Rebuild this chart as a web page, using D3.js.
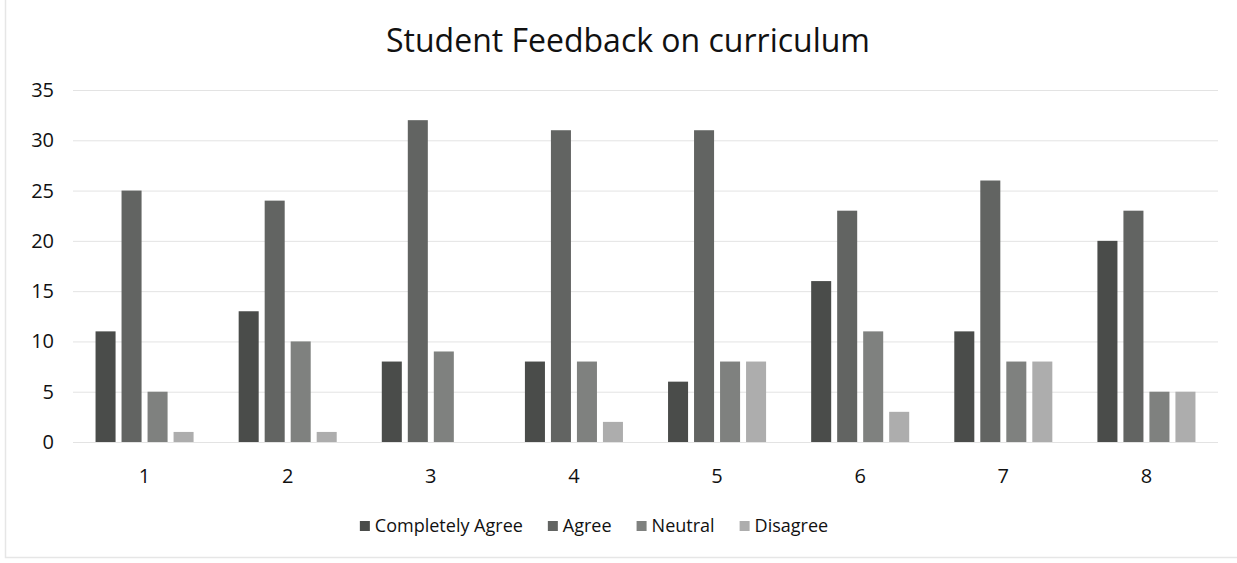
<!DOCTYPE html>
<html>
<head>
<meta charset="utf-8">
<script src="https://cdn.jsdelivr.net/npm/d3@7"></script>
<style>
  body { margin: 0; background: #fff; }
  svg { font-family: "Open Sans", "Noto Sans", sans-serif; }
  .grid line { stroke: #e3e3e3; }
  .grid path { display: none; }
</style>
</head>
<body>
<div id="vis"></div>
<script>
// chart size
const FRAME_WIDTH = 1237;
const FRAME_HEIGHT = 563;
const MARGINS = {left: 73, right: 19, top: 90, bottom: 121};

// data
const categories = ["1", "2", "3", "4", "5", "6", "7", "8"];
const series = ["Completely Agree", "Agree", "Neutral", "Disagree"];
const completelyAgree = [11, 13, 8, 8, 6, 16, 11, 20];
const agree = [25, 24, 32, 31, 31, 23, 26, 23];
const neutral = [5, 10, 9, 8, 8, 11, 8, 5];
const disagree = [1, 1, 0, 2, 8, 3, 8, 5];
const yTicks = [0, 5, 10, 15, 20, 25, 30, 35];
const colors = ["#4a4c4a", "#626462", "#7f817f", "#adadad"];

const values = [completelyAgree, agree, neutral, disagree];

const VIS_WIDTH = FRAME_WIDTH - MARGINS.left - MARGINS.right;
const VIS_HEIGHT = FRAME_HEIGHT - MARGINS.top - MARGINS.bottom;

const FRAME = d3.select("#vis")
  .append("svg")
    .attr("width", FRAME_WIDTH)
    .attr("height", FRAME_HEIGHT);

// faint page border from the scan
FRAME.append("path")
  .attr("d", "M5.5,0 V557.5 H1237")
  .attr("fill", "none")
  .attr("stroke", "#e6e6e6")
  .attr("stroke-width", 1.5);

// title
FRAME.append("text")
  .attr("x", 628)
  .attr("y", 52)
  .attr("text-anchor", "middle")
  .attr("font-size", "32px")
  .attr("fill", "#111")
  .text("Student Feedback on curriculum");

// scales
const X0 = d3.scaleBand()
  .domain(categories)
  .range([0, VIS_WIDTH])
  .paddingInner(0.315)
  .paddingOuter(0.1575);

const X1 = d3.scaleBand()
  .domain(series)
  .range([0, X0.bandwidth()])
  .paddingInner(0.23);

const Y_SCALE = d3.scaleLinear()
  .domain([0, 35])
  .range([VIS_HEIGHT, 0]);

const G = FRAME.append("g")
  .attr("transform", "translate(" + MARGINS.left + "," + MARGINS.top + ")");

// gridlines
G.append("g")
  .attr("class", "grid")
  .call(d3.axisLeft(Y_SCALE).tickValues(yTicks).tickSize(-VIS_WIDTH).tickFormat(""));

G.select(".grid").selectAll("line")
  .filter((d) => d === 0)
  .attr("stroke", "#d6d6d6");

// y axis labels
G.selectAll(".ylab")
  .data(yTicks)
  .enter()
  .append("text")
    .attr("class", "ylab")
    .attr("x", -19)
    .attr("y", (d) => Y_SCALE(d))
    .attr("dy", "0.35em")
    .attr("text-anchor", "end")
    .attr("font-size", "20px")
    .attr("fill", "#111")
    .text((d) => d);

// x axis labels
G.selectAll(".xlab")
  .data(categories)
  .enter()
  .append("text")
    .attr("class", "xlab")
    .attr("x", (d) => X0(d) + X0.bandwidth() / 2)
    .attr("y", VIS_HEIGHT + 41)
    .attr("text-anchor", "middle")
    .attr("font-size", "20px")
    .attr("fill", "#111")
    .text((d) => d);

// bars
const groups = G.selectAll(".group")
  .data(categories)
  .enter()
  .append("g")
    .attr("class", "group")
    .attr("transform", (d) => "translate(" + X0(d) + ",0)");

groups.selectAll("rect")
  .data((d, i) => series.map((s, j) => ({s: s, j: j, v: values[j][i]})))
  .enter()
  .append("rect")
    .attr("x", (d) => X1(d.s))
    .attr("y", (d) => Y_SCALE(d.v))
    .attr("width", X1.bandwidth())
    .attr("height", (d) => VIS_HEIGHT - Y_SCALE(d.v))
    .attr("fill", (d) => colors[d.j]);

// legend
const LEGEND = FRAME.append("g");
let lx = 0;
series.forEach((s, j) => {
  const item = LEGEND.append("g").attr("transform", "translate(" + lx + ",0)");
  item.append("rect")
    .attr("x", 0)
    .attr("y", -11)
    .attr("width", 10)
    .attr("height", 10)
    .attr("fill", colors[j]);
  const t = item.append("text")
    .attr("x", 15)
    .attr("y", 0)
    .attr("font-size", "18px")
    .attr("fill", "#111")
    .text(s);
  lx += 15 + t.node().getComputedTextLength() + 25;
});
const legendWidth = lx - 25;
LEGEND.attr("transform", "translate(" + (594 - legendWidth / 2) + ",532)");
</script>
</body>
</html>
